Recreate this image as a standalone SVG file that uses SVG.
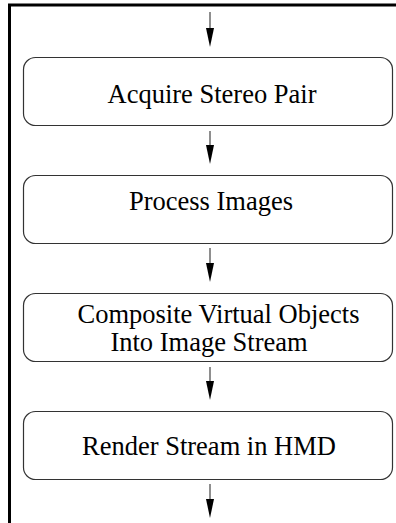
<svg xmlns="http://www.w3.org/2000/svg" width="396" height="523" viewBox="0 0 396 523">
<style>
.box{fill:#fff;stroke:#333;stroke-width:1.2}
.lbl{font-family:"Liberation Serif","Times New Roman",serif;font-size:26.5px;fill:#000;text-anchor:middle}
.conn{stroke:#444;stroke-width:1.2;fill:none}
</style>
<defs>
<marker id="ah" markerUnits="userSpaceOnUse" markerWidth="8" markerHeight="19" refX="4" refY="19" orient="auto-start-reverse" viewBox="0 0 8 19">
<path d="M0,0 L8,0 L4,19 Z" fill="#000"/>
</marker>
</defs>
<rect x="0" y="0" width="396" height="523" fill="#fff"/>
<path d="M9.5,523 V5 H396" fill="none" stroke="#000" stroke-width="3"/>
<g id="connectors">
<line class="conn" x1="210" y1="12" x2="210" y2="28"/>
<path d="M206,28 L214,28 L210,47 Z" fill="#000"/>
<line class="conn" x1="210" y1="131" x2="210" y2="145"/>
<path d="M206,145 L214,145 L210,164 Z" fill="#000"/>
<line class="conn" x1="210" y1="248" x2="210" y2="263"/>
<path d="M206,263 L214,263 L210,282 Z" fill="#000"/>
<line class="conn" x1="210" y1="367" x2="210" y2="381"/>
<path d="M206,381 L214,381 L210,400 Z" fill="#000"/>
<line class="conn" x1="210" y1="484" x2="210" y2="499"/>
<path d="M206,499 L214,499 L210,518 Z" fill="#000"/>
</g>
<g id="acquire">
<rect class="box" x="23.5" y="57.5" width="369" height="68" rx="12"/>
<text class="lbl" x="212" y="103">Acquire Stereo Pair</text>
</g>
<g id="process">
<rect class="box" x="23.5" y="175.5" width="369" height="68" rx="12"/>
<text class="lbl" x="211" y="210">Process Images</text>
</g>
<g id="composite">
<rect class="box" x="23.5" y="293.5" width="369" height="68" rx="12"/>
<text class="lbl" x="218.5" y="323">Composite Virtual Objects</text>
<text class="lbl" x="209" y="351">Into Image Stream</text>
</g>
<g id="render">
<rect class="box" x="23.5" y="411.5" width="369" height="68" rx="12"/>
<text class="lbl" x="209" y="455">Render Stream in HMD</text>
</g>
</svg>
